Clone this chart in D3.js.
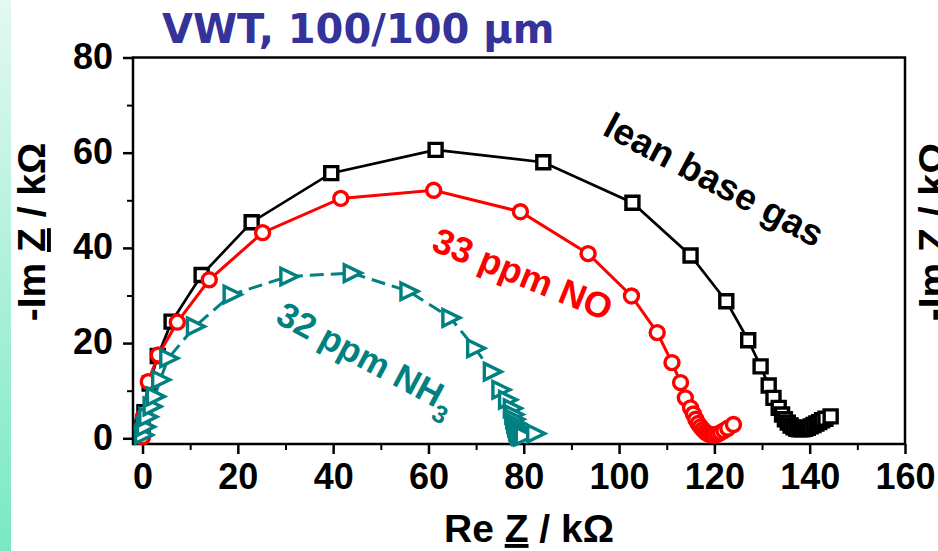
<!DOCTYPE html>
<html>
<head>
<meta charset="utf-8">
<script src="https://cdn.jsdelivr.net/npm/d3@7"></script>
<style>
  body { margin: 0; background: #fff; overflow: hidden; }
  svg { display: block; }
  .tick text { font-family: "Liberation Sans", Arial, sans-serif; font-weight: bold; font-size: 36px; fill: #000; }
</style>
</head>
<body>
<div id="chart"></div>
<script>
// lean base gas (black squares)
const leanX = [-0.3, 0.0, 0.4, 1.5, 3.2, 6.1, 12.4, 22.9, 39.6, 61.5, 84.1, 102.8, 115.0, 122.5, 127.1, 129.7, 131.4, 132.4, 133.5, 134.2, 134.8, 135.4, 136.0, 136.6, 137.2, 137.8, 138.4, 139.0, 139.6, 140.2, 140.8, 141.4, 142.0, 142.6, 143.3, 144.4];
const leanY = [0.5, 2.5, 5.5, 11.5, 17.3, 24.5, 34.3, 45.4, 55.7, 60.6, 58.0, 49.5, 38.4, 28.8, 20.6, 15.1, 11.1, 8.5, 6.4, 5.0, 4.0, 3.3, 2.7, 2.3, 2.0, 1.9, 1.9, 2.0, 2.2, 2.5, 2.8, 3.1, 3.4, 3.8, 4.1, 4.6];

// 33 ppm NO (red circles)
const noX = [0.0, -0.1, 0.2, 1.2, 3.3, 7.3, 14.0, 25.2, 41.6, 61.1, 79.3, 93.5, 102.6, 108.0, 111.1, 112.9, 113.9, 115.0, 115.6, 116.1, 116.6, 117.1, 117.6, 118.1, 118.6, 119.1, 119.6, 120.1, 120.7, 121.3, 122.0, 122.8, 124.0];
const noY = [0.3, 2.2, 4.5, 11.9, 17.5, 24.4, 33.3, 43.2, 50.4, 52.1, 47.6, 38.8, 29.9, 22.2, 15.9, 11.7, 8.5, 6.4, 5.1, 4.0, 3.1, 2.4, 1.8, 1.3, 1.0, 0.8, 0.7, 0.7, 0.9, 1.2, 1.6, 2.1, 2.9];

// 32 ppm NH3 (teal triangles)
const nh3X = [0.1, 0.5, 1.0, 1.9, 2.6, 3.7, 5.4, 11.0, 18.7, 30.6, 43.9, 55.8, 64.6, 69.8, 73.3, 75.1, 76.5, 77.5, 77.8, 78.0, 78.2, 78.4, 78.6, 78.8, 79.0, 79.3, 79.6, 80.0, 82.4];
const nh3Y = [0.7, 2.4, 4.5, 6.7, 8.8, 12.3, 16.8, 23.5, 30.2, 34.0, 34.7, 30.9, 25.3, 18.9, 14.0, 10.2, 8.1, 6.3, 5.0, 4.0, 3.1, 2.3, 1.6, 1.1, 0.7, 0.5, 0.4, 0.5, 1.0];

const xTicks = [0, 20, 40, 60, 80, 100, 120, 140, 160];
const yTicks = [0, 20, 40, 60, 80];

const W = 938, H = 551;
const plot = { left: 133, right: 905, top: 57.5, bottom: 444 };

const svg = d3.select("#chart")
  .append("svg")
  .attr("width", W)
  .attr("height", H);

// mint strip on the left edge
const grad = svg.append("defs").append("linearGradient")
  .attr("id", "strip")
  .attr("x1", 0).attr("y1", 0).attr("x2", 0).attr("y2", 1);
grad.append("stop").attr("offset", "0%").attr("stop-color", "#e4f8f0");
grad.append("stop").attr("offset", "100%").attr("stop-color", "#78e9c4");
svg.append("rect")
  .attr("x", 0).attr("y", 0)
  .attr("width", 11).attr("height", H)
  .attr("fill", "url(#strip)");

const xScale = d3.scaleLinear()
  .domain([-2, 160])
  .range([plot.left, plot.right]);

const yScale = d3.scaleLinear()
  .domain([-1.2, 80])
  .range([plot.bottom, plot.top]);

// minor ticks
svg.append("g")
  .attr("transform", `translate(0, ${plot.bottom})`)
  .call(d3.axisBottom(xScale).tickValues(d3.range(10, 160, 20)).tickSize(6).tickFormat(""))
  .call(g => g.select(".domain").remove())
  .call(g => g.selectAll("line").attr("stroke-width", 2));

svg.append("g")
  .attr("transform", `translate(${plot.left}, 0)`)
  .call(d3.axisLeft(yScale).tickValues(d3.range(10, 80, 20)).tickSize(6).tickFormat(""))
  .call(g => g.select(".domain").remove())
  .call(g => g.selectAll("line").attr("stroke-width", 2));

// major ticks with labels
svg.append("g")
  .attr("transform", `translate(0, ${plot.bottom})`)
  .call(d3.axisBottom(xScale).tickValues(xTicks).tickSize(10).tickPadding(9))
  .call(g => g.select(".domain").remove())
  .call(g => g.selectAll("line").attr("stroke-width", 2.5));

svg.append("g")
  .attr("transform", `translate(${plot.left}, 0)`)
  .call(d3.axisLeft(yScale).tickValues(yTicks).tickSize(10).tickPadding(10))
  .call(g => g.select(".domain").remove())
  .call(g => g.selectAll("line").attr("stroke-width", 2.5))
  .call(g => g.selectAll("text").attr("dy", "0.3em"));

// frame
svg.append("rect")
  .attr("x", plot.left).attr("y", plot.top)
  .attr("width", plot.right - plot.left)
  .attr("height", plot.bottom - plot.top)
  .attr("fill", "none")
  .attr("stroke", "#000")
  .attr("stroke-width", 2.5);

// series
const series = [
  { xs: leanX, ys: leanY, color: "#000000", shape: "square", dash: null, width: 2.7 },
  { xs: noX, ys: noY, color: "#ff0000", shape: "circle", dash: null, width: 3 },
  { xs: nh3X, ys: nh3Y, color: "#008080", shape: "triangle", dash: "14,7", width: 3 }
];

const line = d3.line()
  .x(d => xScale(d[0]))
  .y(d => yScale(d[1]));

series.forEach(s => {
  const pts = s.xs.map((x, i) => [x, s.ys[i]]);
  const g = svg.append("g");

  g.append("path")
    .datum(pts)
    .attr("d", line)
    .attr("fill", "none")
    .attr("stroke", s.color)
    .attr("stroke-width", s.width)
    .attr("stroke-dasharray", s.dash);

  const marks = g.selectAll(".mark")
    .data(pts)
    .join("path")
    .attr("class", "mark")
    .attr("transform", d => `translate(${xScale(d[0])}, ${yScale(d[1])})`)
    .attr("fill", "#fff")
    .attr("stroke", s.color)
    .attr("stroke-width", 3.4);

  if (s.shape === "square") {
    marks.attr("d", "M-6.5,-6.5H6.5V6.5H-6.5Z");
  } else if (s.shape === "circle") {
    marks.attr("d", d3.symbol().type(d3.symbolCircle).size(Math.PI * 7 * 7));
  } else {
    marks.attr("d", "M-7.5,-8.3L9.5,0L-7.5,8.3Z").attr("stroke-linejoin", "miter");
  }
});

// series labels
const labelFont = "'Liberation Sans', Arial, sans-serif";

svg.append("text")
  .attr("transform", "translate(601, 134) rotate(28)")
  .attr("font-family", labelFont)
  .attr("font-weight", "bold")
  .attr("font-size", 37)
  .attr("fill", "#000")
  .text("lean base gas");

svg.append("text")
  .attr("transform", "translate(430, 250) rotate(22)")
  .attr("font-family", labelFont)
  .attr("font-weight", "bold")
  .attr("font-size", 36)
  .attr("fill", "#ff0000")
  .text("33 ppm NO");

const nh3Label = svg.append("text")
  .attr("transform", "translate(274, 322) rotate(28)")
  .attr("font-family", labelFont)
  .attr("font-weight", "bold")
  .attr("font-size", 35)
  .attr("fill", "#008080");
nh3Label.append("tspan").text("32 ppm NH");
nh3Label.append("tspan").attr("font-size", 25).attr("dy", 12).text("3");

// title
svg.append("text")
  .attr("x", 162)
  .attr("y", 43)
  .attr("font-family", "'DejaVu Sans', Verdana, sans-serif")
  .attr("font-weight", "bold")
  .attr("font-size", 40)
  .attr("fill", "#333399")
  .text("VWT, 100/100 µm");

// axis titles
function axisTitle(t) {
  t.attr("font-family", labelFont)
    .attr("font-weight", "bold")
    .attr("font-size", 39)
    .attr("fill", "#000")
    .attr("text-anchor", "middle");
}

const xt = svg.append("text")
  .attr("x", 529)
  .attr("y", 542)
  .call(axisTitle);
xt.append("tspan").text("Re ");
xt.append("tspan").attr("text-decoration", "underline").text("Z");
xt.append("tspan").text(" / k\u03A9");

function yTitle(x) {
  const t = svg.append("text")
    .attr("transform", `translate(${x}, 232) rotate(-90)`)
    .call(axisTitle);
  t.append("tspan").text("-Im ");
  t.append("tspan").attr("text-decoration", "underline").text("Z");
  t.append("tspan").text(" / k\u03A9");
}
yTitle(45);
yTitle(946); // next panel's label, cut by the edge
</script>
</body>
</html>
